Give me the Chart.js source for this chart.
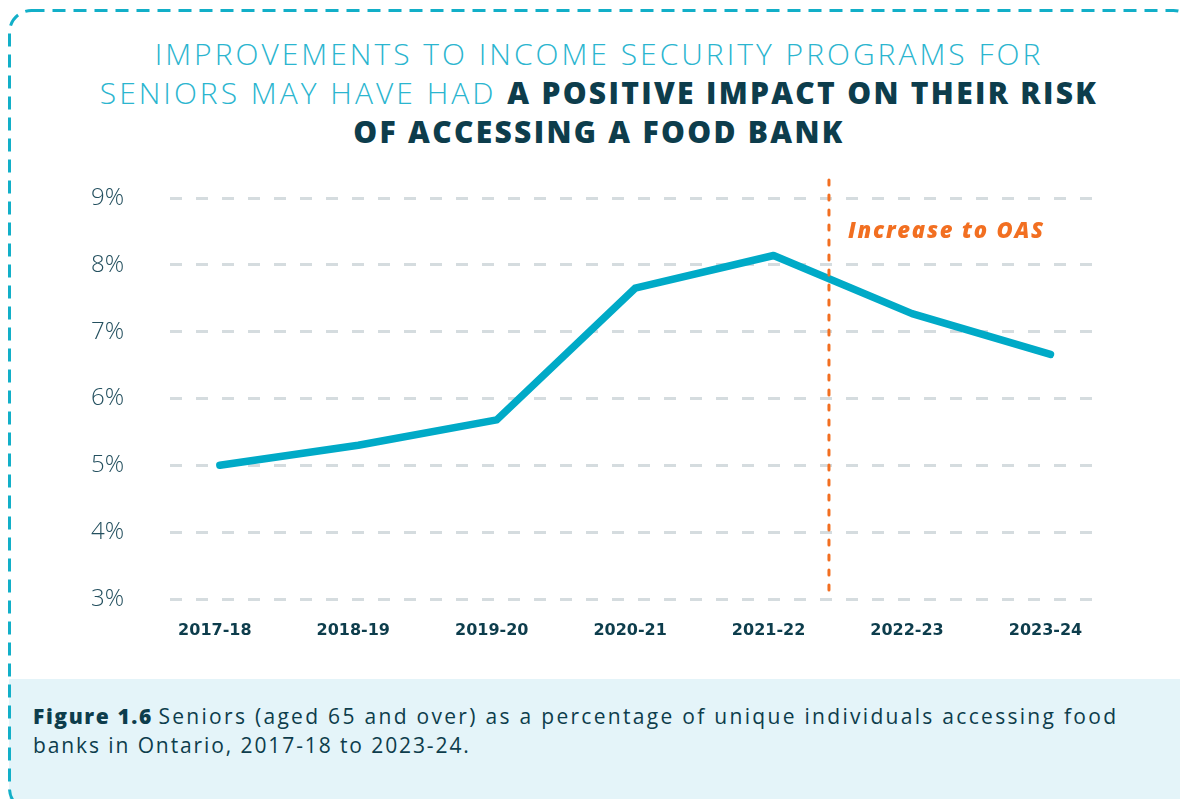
<!DOCTYPE html>
<html>
<head>
<meta charset="utf-8">
<script src="https://cdn.jsdelivr.net/npm/chart.js@4"></script>
<style>
  html, body { margin: 0; padding: 0; background: #fff; }
  #page { position: relative; width: 1180px; height: 799px; overflow: hidden; font-family: 'Open Sans', sans-serif; }
  #frame { position: absolute; left: 0; top: 0; }
  #title { position: absolute; left: 0; top: 34px; width: 1198px; text-align: center; font-size: 30px; line-height: 39px; color: #2bb5cf; font-weight: 300; letter-spacing: 3px; }
  #title b { color: #0d3d4c; font-weight: 800; letter-spacing: 2.3px; }
  #caption { position: absolute; left: 9px; top: 679px; width: 1180px; height: 120px; background: #e4f4f9; }
  #caption p { margin: 0; position: absolute; left: 24px; top: 23px; font-size: 21px; line-height: 29px; color: #0d3d4c; white-space: nowrap; }
  #caption .l1 { letter-spacing: 2.3px; }
  #caption .l2 { letter-spacing: 1.9px; }
  #caption b { font-weight: 800; letter-spacing: 1.6px; }
  #wrap { position: absolute; left: 0; top: 0; width: 1180px; height: 799px; }
</style>
</head>
<body>
<div id="page">
  <div id="caption"><p><b>Figure 1.6</b> <span class="l1">Seniors (aged 65 and over) as a percentage of unique individuals accessing food</span><br><span class="l2">banks in Ontario, 2017-18 to 2023-24.</span></p></div>
  <svg id="frame" width="1180" height="799">
    <rect x="9.5" y="10.5" width="1186" height="800" rx="22" ry="22" fill="none" stroke="#12afc8" stroke-width="3" stroke-dasharray="13 8"></rect>
  </svg>
  <div id="title">IMPROVEMENTS TO INCOME SECURITY PROGRAMS FOR<br>SENIORS MAY HAVE HAD <b>A POSITIVE IMPACT ON THEIR RISK<br>OF ACCESSING A FOOD BANK</b></div>
  <div id="wrap"><canvas id="myChart"></canvas></div>
</div>
<script>
'use strict';

//////////////// data
let years = ['2017-18', '2018-19', '2019-20', '2020-21', '2021-22', '2022-23', '2023-24'];
let seniorShare = [5.0, 5.3, 5.68, 7.65, 8.14, 7.27, 6.66];
let yTicks = [3, 4, 5, 6, 7, 8, 9];
let oasLabel = 'Increase to OAS';
let oasAt = 4.4; // between 2021-22 and 2022-23

let points = [];
for (let i = 0; i < years.length; i++) {
  points.push({ x: i, y: seniorShare[i] });
}

//////////////// orange marker line + label
let oasLine = {
  id: 'oasLine',
  afterDatasetsDraw(chart) {
    let ctx = chart.ctx;
    let x = chart.scales.x.getPixelForValue(oasAt);
    let yTop = chart.scales.y.getPixelForValue(9.27);
    let yBot = chart.scales.y.getPixelForValue(3.06);
    ctx.save();
    ctx.strokeStyle = '#f26f21';
    ctx.lineWidth = 3;
    ctx.lineCap = 'round';
    ctx.setLineDash([5, 10]);
    ctx.beginPath();
    ctx.moveTo(x, yTop);
    ctx.lineTo(x, yBot);
    ctx.stroke();
    ctx.fillStyle = '#f26f21';
    ctx.font = 'italic 800 22px "Open Sans"';
    ctx.letterSpacing = '1.8px';
    ctx.textBaseline = 'middle';
    ctx.fillText(oasLabel, x + 19, chart.scales.y.getPixelForValue(8.5));
    ctx.restore();
  }
};

let ctx = document.getElementById('myChart').getContext('2d');
let myChart = new Chart(ctx, {
  type: 'line',
  data: {
    datasets: [
      {
        label: 'Seniors',
        data: points,
        borderColor: '#00aac7',
        borderWidth: 7.5,
        borderCapStyle: 'round',
        borderJoinStyle: 'round',
        pointRadius: 0,
        tension: 0
      }
    ]
  },
  options: {
    responsive: true,
    maintainAspectRatio: false,
    animation: false,
    layout: { padding: { top: 198, right: 88, bottom: 140, left: 0 } },
    plugins: { legend: { display: false }, tooltip: { enabled: false } },
    scales: {
      x: {
        type: 'linear',
        min: -0.36,
        max: 6.3,
        afterBuildTicks: function (scale) {
          scale.ticks = years.map((y, i) => ({ value: i }));
        },
        afterFit: function (scale) { scale.height = 60; },
        grid: { display: false },
        border: { display: false },
        ticks: {
          padding: 14,
          labelOffset: -5,
          color: '#0d3d4c',
          font: { family: 'DejaVu Sans', size: 16, weight: 'bold' },
          callback: function (v) { return years[v]; }
        }
      },
      y: {
        min: 3,
        max: 9,
        afterBuildTicks: function (scale) {
          scale.ticks = yTicks.map(v => ({ value: v }));
        },
        afterFit: function (scale) { scale.width = 170; },
        grid: { color: '#d5dcdf', lineWidth: 3, drawTicks: false },
        border: { display: false, dash: [12, 14] },
        ticks: {
          padding: 46,
          color: '#24505f',
          font: { family: 'Open Sans', size: 24, weight: 300 },
          callback: function (v) { return v + '%'; }
        }
      }
    }
  },
  plugins: [oasLine]
});
</script>
</body>
</html>
